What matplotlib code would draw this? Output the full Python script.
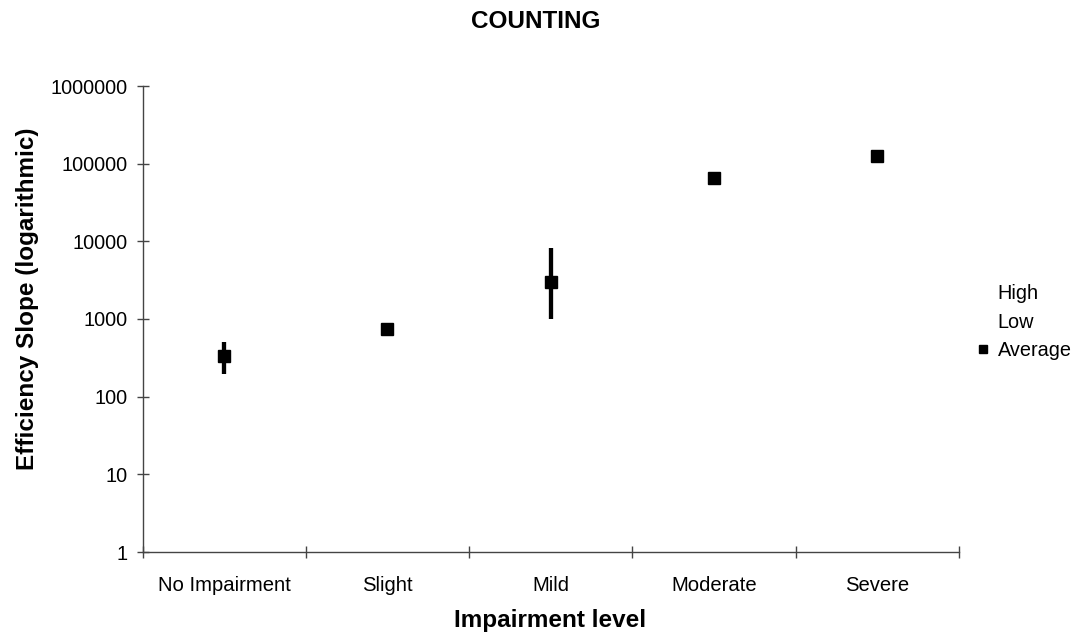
import numpy as np
import matplotlib.pyplot as plt
from matplotlib.lines import Line2D

plt.rcParams['font.family'] = ['Liberation Sans', 'DejaVu Sans']

# impairment categories and the high / low / average efficiency slopes
categories = ['No Impairment', 'Slight', 'Mild', 'Moderate', 'Severe']
high = [500, 880, 8100, np.nan, np.nan]
low = [195, 640, 990, np.nan, np.nan]
average = [338, 752, 3030, 66000, 126800]

y_ticks = [1, 10, 100, 1000, 10000, 100000, 1000000]
y_tick_labels = ['1', '10', '100', '1000', '10000', '100000', '1000000']

W, H = 1076, 633
fig = plt.figure(figsize=(W / 100, H / 100), dpi=100)
ax = fig.add_axes([142.5 / W, 1 - 552 / H, (959 - 142.5) / W, (552 - 86) / H])

x = np.arange(len(categories))

# high-low bars
ax.vlines(x, low, high, colors='black', linewidth=3.1, capstyle='butt')
# average markers
ax.plot(x, average, linestyle='none', marker='s', markersize=8, color='black')

ax.set_yscale('log')
ax.set_ylim(1, 1000000)
ax.set_xlim(-0.5, len(categories) - 0.5)

ax.set_yticks(y_ticks)
ax.set_yticklabels(y_tick_labels)
ax.minorticks_off()

# category boundaries carry the tick marks, labels sit between them
ax.set_xticks(np.arange(len(categories) + 1) - 0.5)
ax.set_xticklabels([])
ax.set_xticks(x, minor=True)
ax.set_xticklabels(categories, minor=True)

ax.tick_params(axis='both', which='major', direction='inout', length=9,
               width=1, color='#444444', labelsize=14)
ax.tick_params(axis='y', which='major', pad=6, labelsize=14.3)
ax.tick_params(axis='x', which='minor', length=0, pad=17, labelsize=14.6)

for side in ['top', 'right']:
    ax.spines[side].set_visible(False)
for side in ['left', 'bottom']:
    ax.spines[side].set_color('#444444')
    ax.spines[side].set_linewidth(1)

fig.text(536 / W, 1 - 21 / H, 'COUNTING', ha='center', va='center',
         fontsize=17.5, fontweight='bold')
fig.text(550 / W, 1 - 627 / H, 'Impairment level', ha='center', va='baseline',
         fontsize=17.5, fontweight='bold')
fig.text(28 / W, 1 - 299 / H, 'Efficiency Slope (logarithmic)', ha='center',
         va='center', rotation=90, fontsize=17.5, fontweight='bold')

handles = [
    Line2D([], [], linestyle='none'),
    Line2D([], [], linestyle='none'),
    Line2D([], [], linestyle='none', marker='s', markersize=5.5, color='black'),
]
fig.legend(handles, ['High', 'Low', 'Average'], loc='center left',
           bbox_to_anchor=(977 / W, 1 - 322 / H), frameon=False, fontsize=14.3,
           handlelength=0.6, handletextpad=0.45, labelspacing=0.48,
           borderpad=0, borderaxespad=0)

fig.savefig('out.png', dpi=100)
